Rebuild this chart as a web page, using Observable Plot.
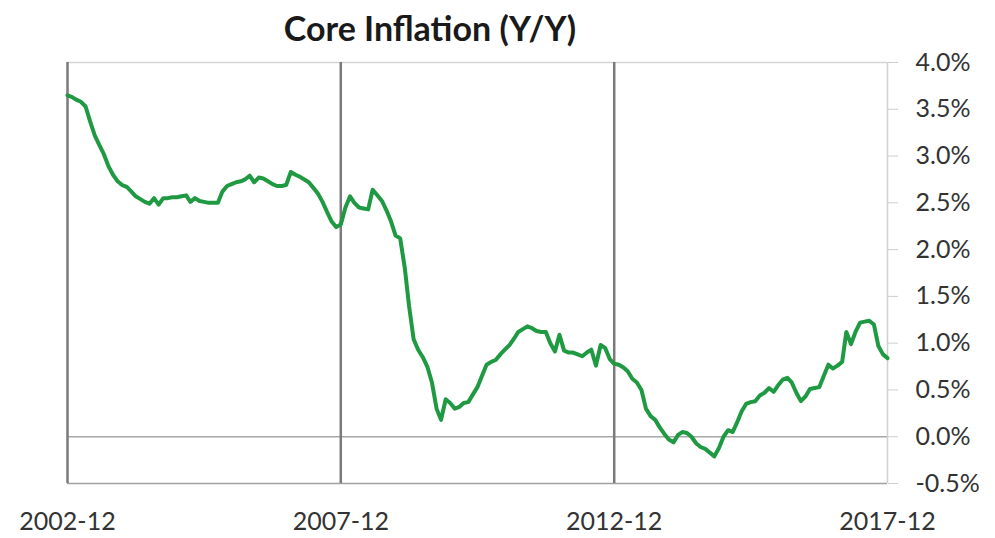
<!DOCTYPE html>
<html><head><meta charset="utf-8">
<script src="https://cdn.jsdelivr.net/npm/d3@7"></script>
<script src="https://cdn.jsdelivr.net/npm/@observablehq/plot@0.6"></script>
<style>
body{margin:0;background:#fff;}
#wrap{position:relative;width:995px;height:538px;overflow:hidden;}
#title{position:absolute;left:0;top:0;width:860px;text-align:center;font-family:Lato,sans-serif;font-weight:bold;font-size:34px;color:#1a1a1a;line-height:56px;z-index:2;}
#chart{position:absolute;left:0;top:0;}
</style></head><body>
<div id="wrap"><div id="title">Core Inflation (Y/Y)</div><div id="chart"></div></div>
<script>
const startMonth = "2002-12";
const coreInflation = [
3.65,3.63,3.60,3.58,3.53,3.37,3.22,3.12,3.02,2.89,
2.80,2.73,2.69,2.67,2.62,2.57,2.54,2.51,2.49,2.55,
2.48,2.55,2.55,2.56,2.56,2.57,2.58,2.51,2.55,2.52,
2.51,2.50,2.50,2.50,2.62,2.68,2.70,2.72,2.73,2.75,
2.79,2.72,2.77,2.76,2.73,2.70,2.68,2.68,2.69,2.83,
2.80,2.78,2.75,2.72,2.66,2.60,2.51,2.40,2.30,2.24,
2.27,2.45,2.57,2.50,2.45,2.44,2.43,2.64,2.58,2.52,
2.42,2.30,2.15,2.12,1.80,1.40,1.04,0.93,0.85,0.75,
0.58,0.30,0.18,0.40,0.36,0.30,0.32,0.36,0.37,0.45,
0.53,0.65,0.77,0.80,0.82,0.88,0.93,0.98,1.05,1.12,
1.15,1.18,1.16,1.13,1.12,1.12,1.00,0.91,1.09,0.92,
0.90,0.90,0.88,0.86,0.90,0.93,0.76,0.98,0.95,0.83,
0.78,0.77,0.74,0.70,0.62,0.58,0.50,0.30,0.22,0.18,
0.10,0.03,-0.03,-0.06,0.02,0.05,0.04,0.00,-0.07,-0.11,
-0.13,-0.17,-0.21,-0.12,0.00,0.07,0.05,0.15,0.27,0.35,
0.37,0.38,0.44,0.47,0.52,0.48,0.55,0.61,0.63,0.58,
0.47,0.38,0.43,0.51,0.52,0.53,0.65,0.77,0.73,0.76,
0.80,1.12,0.99,1.12,1.22,1.23,1.24,1.20,0.97,0.88,
0.84
];
const xTickLabels = ["2002-12","2007-12","2012-12","2017-12"];
const gridMonths = ["2002-12","2007-12","2012-12"];
const rightEdgeMonth = "2017-12";
const yTicks = [-0.5,0,0.5,1.0,1.5,2.0,2.5,3.0,3.5,4.0];

const parse = d3.utcParse("%Y-%m");
const start = parse(startMonth);
const data = coreInflation.map((v, i) => ({date: d3.utcMonth.offset(start, i), value: v}));

const chart = Plot.plot({
  width: 995,
  height: 538,
  marginTop: 62,
  marginBottom: 55,
  marginLeft: 67,
  marginRight: 108,
  style: {fontFamily: "Lato, sans-serif", background: "#fff"},
  x: {type: "utc", domain: [parse(xTickLabels[0]), parse(xTickLabels[3])], label: null},
  y: {domain: [-0.5, 4.0], label: null},
  marks: [
    Plot.ruleY([4.0], {stroke: "#d4d4d4", strokeWidth: 1.5}),
    Plot.ruleY([0], {stroke: "#a8a8a8", strokeWidth: 1.5}),
    Plot.ruleY([-0.5], {stroke: "#a0a0a0", strokeWidth: 1.5}),
    Plot.ruleX([parse(rightEdgeMonth)], {stroke: "#d0d0d0", strokeWidth: 1.5}),
    Plot.ruleX(gridMonths.map(parse), {stroke: "#7a7a7a", strokeWidth: 2.5}),
    Plot.lineY(data, {x: "date", y: "value", stroke: "#1f9a42", strokeWidth: 4, strokeLinejoin: "round"}),
    Plot.axisY({anchor: "right", label: null, ticks: yTicks, tickFormat: d => d.toFixed(1) + "%", tickSize: 10, tickPadding: 18, stroke: "#cfcfcf", fill: "#333", fontSize: 25}),
    Plot.axisX({label: null, ticks: xTickLabels.map(parse), tickFormat: d3.utcFormat("%Y-%m"), tickSize: 0, tickPadding: 29, fill: "#333", fontSize: 25})
  ]
});
document.getElementById("chart").appendChild(chart);
</script>
</body></html>
